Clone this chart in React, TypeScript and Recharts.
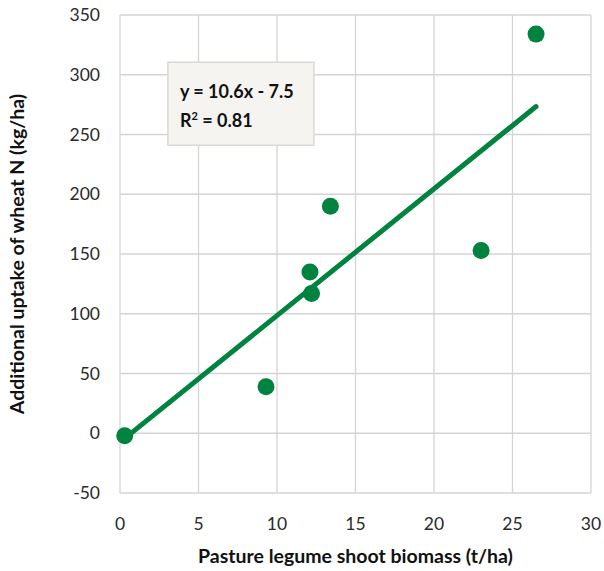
import React from 'react';
import { ScatterChart, Scatter, XAxis, YAxis, CartesianGrid, ReferenceArea } from 'recharts';

const biomass = [0.3, 9.3, 12.1, 12.2, 13.4, 23.0, 26.5];
const uptake = [-2, 39, 135, 117, 190, 153, 334];
const xTicks = [0, 5, 10, 15, 20, 25, 30];
const yTicks = [-50, 0, 50, 100, 150, 200, 250, 300, 350];
const slope = 10.6;
const intercept = -7.5;
const eqLabel = 'y = 10.6x - 7.5';
const r2Value = '0.81';

const points = biomass.map((x, i) => ({ x, y: uptake[i] }));
const xMin = Math.min(...biomass);
const xMax = Math.max(...biomass);
const trend = [
  { x: xMin, y: slope * xMin + intercept },
  { x: xMax, y: slope * xMax + intercept },
];

const GREEN = '#00833F';
const FONT = 'Lato, "Open Sans", sans-serif';

export default function App() {
  return (
    <div style={{ position: 'absolute', left: 0, top: 0, background: '#fff' }}>
      <ScatterChart width={604} height={571} margin={{ top: 15, right: 13, bottom: 18, left: 0 }}>
        <CartesianGrid stroke="#d4d4d4" strokeWidth={1.3} />
        <XAxis
          type="number"
          dataKey="x"
          domain={[0, 30]}
          ticks={xTicks}
          tickLine={false}
          axisLine={false}
          tickSize={0}
          tickMargin={25}
          height={60}
          tick={{ fill: '#2a2a2a', fontSize: 17.5, fontFamily: FONT }}
          label={{
            content: (props: any) => {
              const vb = props.viewBox;
              return (
                <text
                  x={vb.x + vb.width / 2}
                  y={vb.y + 70}
                  textAnchor="middle"
                  fill="#111"
                  fontSize={19.5}
                  fontWeight="bold"
                  fontFamily={FONT}
                >
                  Pasture legume shoot biomass (t/ha)
                </text>
              );
            },
          }}
        />
        <YAxis
          type="number"
          dataKey="y"
          domain={[-50, 350]}
          ticks={yTicks}
          tickLine={false}
          axisLine={false}
          tickSize={0}
          tickMargin={20}
          width={120}
          tick={{ fill: '#2a2a2a', fontSize: 17.5, fontFamily: FONT }}
          label={{
            content: (props: any) => {
              const vb = props.viewBox;
              const cx = vb.x + 24;
              const cy = vb.y + vb.height / 2;
              return (
                <text
                  x={cx}
                  y={cy}
                  transform={`rotate(-90 ${cx} ${cy})`}
                  textAnchor="middle"
                  fill="#111"
                  fontSize={19.5}
                  fontWeight="bold"
                  fontFamily={FONT}
                >
                  Additional uptake of wheat N (kg/ha)
                </text>
              );
            },
          }}
        />
        <ReferenceArea
          x1={3.05}
          x2={12.35}
          y1={241}
          y2={310.5}
          fill="#f6f4f1"
          fillOpacity={1}
          stroke="#dcd8d2"
          strokeWidth={1.5}
          label={{
            content: (props: any) => {
              const vb = props.viewBox;
              return (
                <g>
                  <text x={vb.x + 12} y={vb.y + 36} fill="#111" fontSize={18} fontWeight="bold" fontFamily={FONT}>
                    {eqLabel}
                  </text>
                  <text x={vb.x + 12} y={vb.y + 65} fill="#111" fontSize={18} fontWeight="bold" fontFamily={FONT}>
                    R<tspan fontSize={11} dy={-7}>2</tspan>
                    <tspan dy={7}>{` = ${r2Value}`}</tspan>
                  </text>
                </g>
              );
            },
          }}
        />
        <Scatter
          data={trend}
          isAnimationActive={false}
          line={{ stroke: GREEN, strokeWidth: 5, strokeLinecap: 'round' } as any}
          shape={() => <g />}
        />
        <Scatter
          data={points}
          isAnimationActive={false}
          fill={GREEN}
          shape={(p: any) => <circle cx={p.cx} cy={p.cy} r={8.5} fill={GREEN} />}
        />
      </ScatterChart>
    </div>
  );
}
